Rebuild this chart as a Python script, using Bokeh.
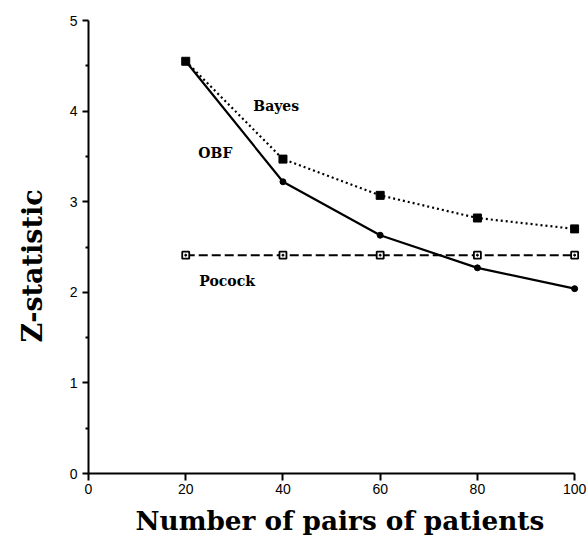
from bokeh.plotting import figure
from bokeh.models import FixedTicker, Range1d, Title
from bokeh.embed import file_html
from bokeh.resources import INLINE
from bokeh.core.properties import value

n_pairs = [20, 40, 60, 80, 100]
bayes = [4.55, 3.47, 3.07, 2.82, 2.70]
obf = [4.55, 3.22, 2.63, 2.27, 2.04]
pocock = [2.41, 2.41, 2.41, 2.41, 2.41]

x_ticks = [0, 20, 40, 60, 80, 100]
y_ticks = [0, 1, 2, 3, 4, 5]
y_minor = [0.5, 1.5, 2.5, 3.5, 4.5]

labels = ["Bayes", "OBF", "Pocock"]
label_x = [33.9, 22.6, 22.8]
label_y = [4.06, 3.54, 2.13]

x_title = "Number of pairs of patients"
y_title = "Z-statistic"

p = figure(width=588, height=542, output_backend="svg", toolbar_location=None,
           x_range=Range1d(0, 101), y_range=Range1d(0, 5),
           min_border_left=88, min_border_right=9, min_border_top=20, min_border_bottom=69)
p.outline_line_color = None
p.grid.visible = False

FONT_T = "DejaVu Serif"
FONT_N = "Liberation Sans"

p.line(n_pairs, bayes, line_color="black", line_width=2.2, line_dash="2 3")
p.scatter(n_pairs, bayes, marker="square", size=8, fill_color="black", line_color="black")

p.line(n_pairs, obf, line_color="black", line_width=2.2)
p.scatter(n_pairs, obf, marker="circle", size=6, fill_color="black", line_color="black")

p.line(n_pairs, pocock, line_color="black", line_width=2, line_dash="9 4")
p.scatter(n_pairs, pocock, marker="square", size=7, fill_color="white", line_color="black", line_width=1.8)
p.scatter(n_pairs, pocock, marker="circle", size=2, fill_color="black", line_color="black")

p.text(label_x, label_y, text=labels, text_font=value(FONT_T), text_font_style="bold",
       text_font_size="14px", text_baseline="middle", text_align="left", text_color="black")

xa = p.xaxis[0]
xa.ticker = FixedTicker(ticks=x_ticks)
xa.bounds = (0, 100)
xa.axis_line_width = 2
xa.axis_line_color = "black"
xa.major_tick_line_width = 2
xa.major_tick_out = 7
xa.major_tick_in = 0
xa.minor_tick_line_color = None
xa.major_label_text_font = FONT_N
xa.major_label_text_font_size = "14px"
xa.major_label_text_color = "black"
xa.major_label_standoff = 3

ya = p.yaxis[0]
ya.ticker = FixedTicker(ticks=y_ticks, minor_ticks=y_minor)
ya.axis_line_width = 2
ya.axis_line_color = "black"
ya.major_tick_line_width = 2
ya.major_tick_out = 6
ya.major_tick_in = 0
ya.minor_tick_line_width = 2
ya.minor_tick_out = 3
ya.minor_tick_in = 0
ya.major_label_text_font = FONT_N
ya.major_label_text_font_size = "14px"
ya.major_label_text_color = "black"
ya.major_label_standoff = 5

p.add_layout(Title(text=x_title, align="left", offset=47, standoff=12,
                   text_font=FONT_T, text_font_style="bold", text_font_size="26.3px",
                   text_color="black"), "below")
p.add_layout(Title(text=y_title, align="left", offset=131, standoff=33,
                   vertical_align="top",
                   text_font=FONT_T, text_font_style="bold", text_font_size="27px",
                   text_color="black"), "left")

open("out.html", "w").write(file_html(p, INLINE))
